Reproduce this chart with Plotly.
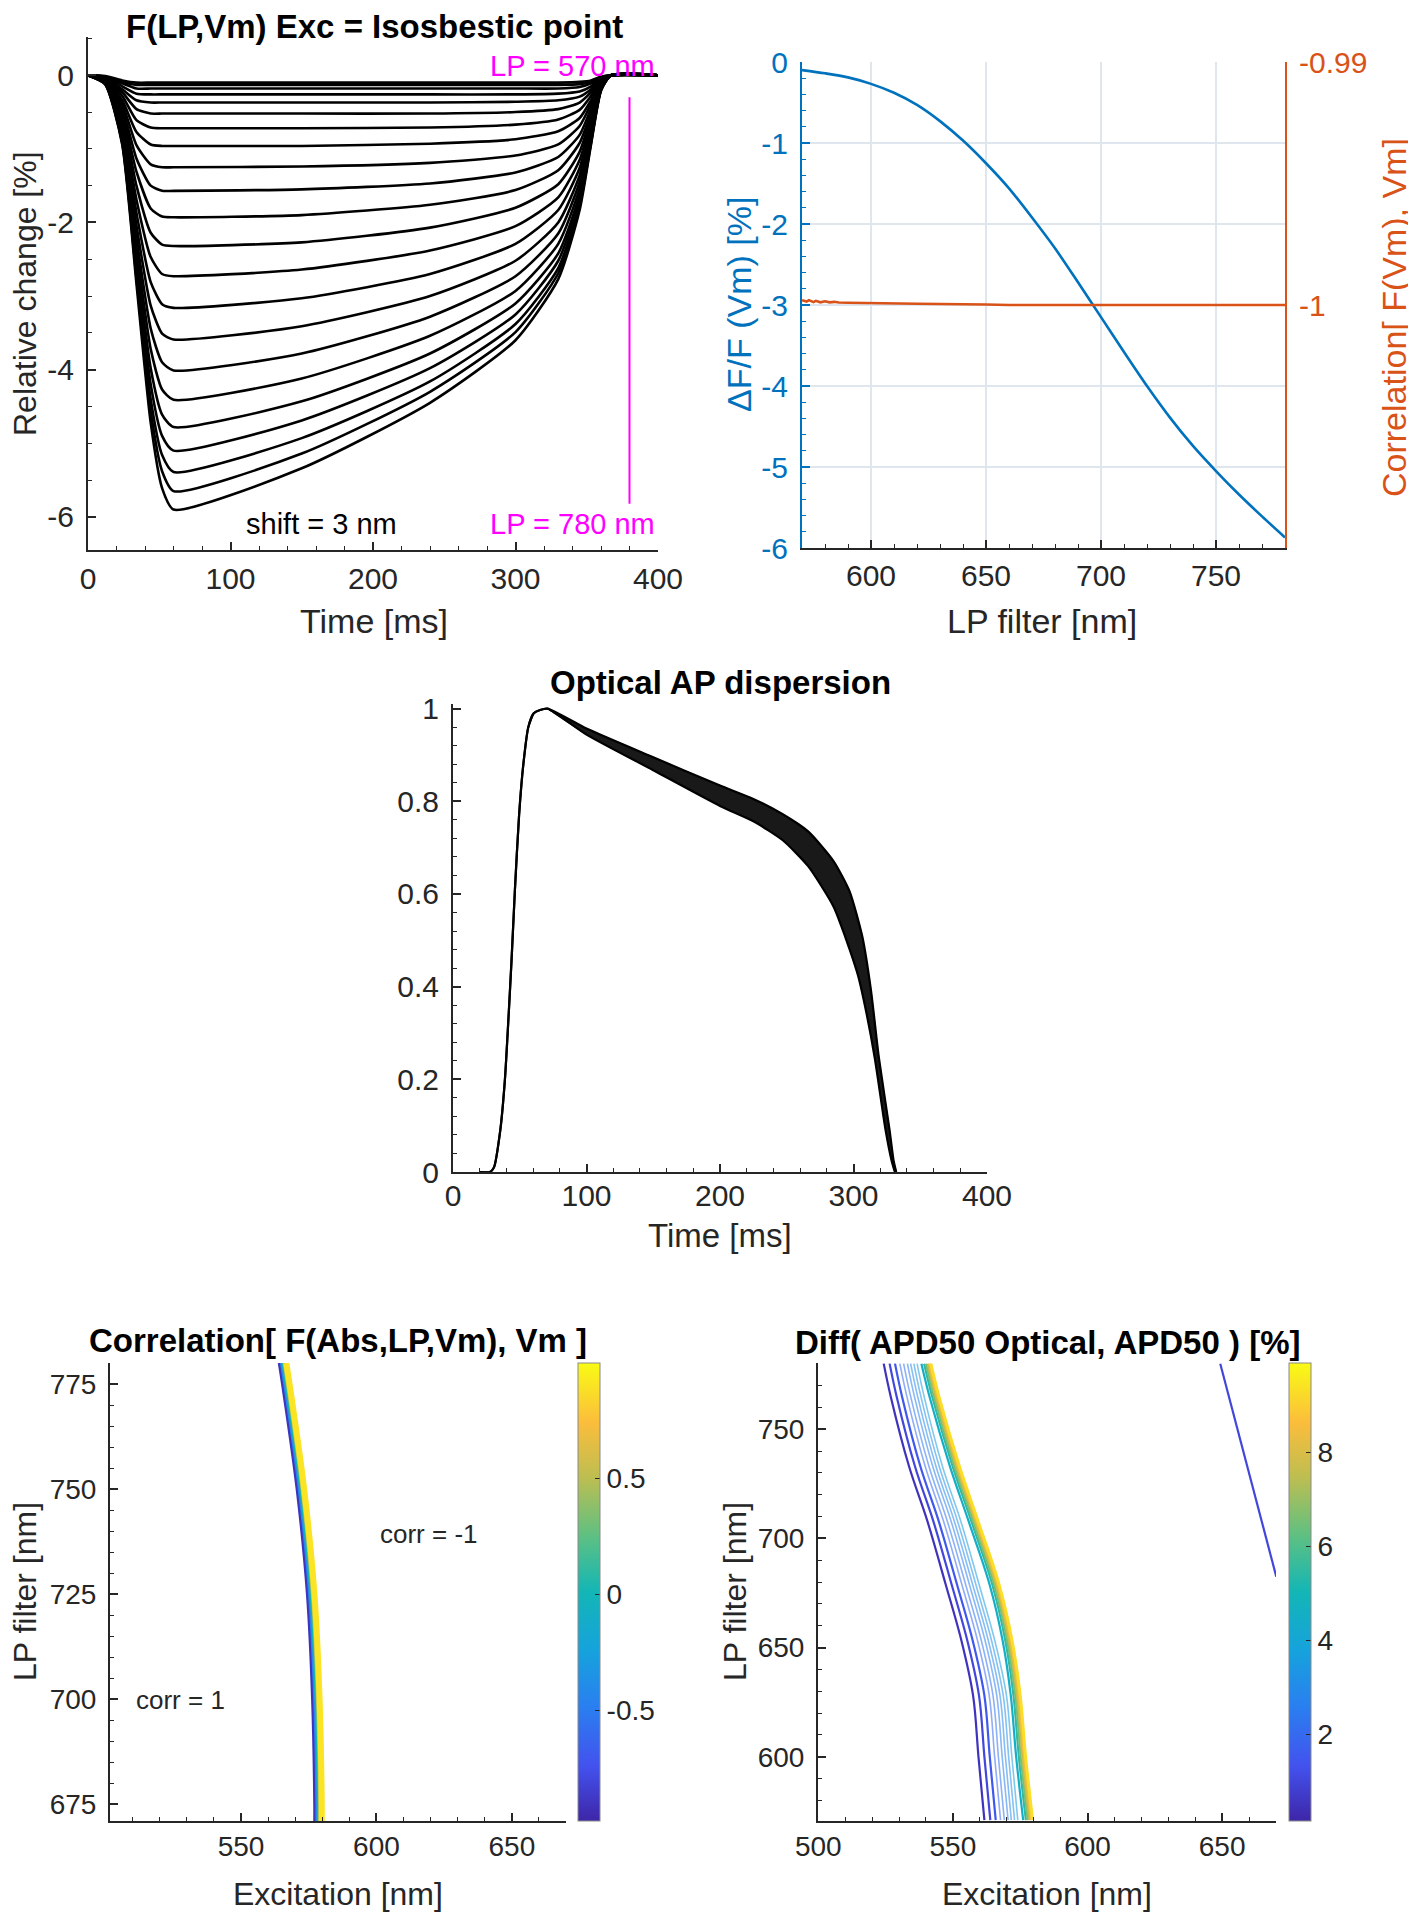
import plotly.graph_objects as go
from plotly.colors import sample_colorscale

W, H = 1416, 1920          # browser window
OFF = 8                    # default <body> margin of the written page
FW, FH = W - OFF, H - OFF  # figure size so the page fills the window


def px(x):
    return (x - OFF) / FW


def py(y):
    return 1 - (y - OFF) / FH


FONT = "Liberation Sans, Arial, sans-serif"
INK = "#262626"
BLUE = "#0072BD"
ORANGE = "#D95319"
MAGENTA = "#FF00FF"

PARULA = [[0.0, "#3e26a8"], [0.12, "#4352ee"], [0.25, "#2a7ff0"], [0.37, "#16a2dd"],
          [0.5, "#13b6b6"], [0.62, "#5cc083"], [0.75, "#bdbe51"], [0.87, "#fbbd3c"],
          [1.0, "#f9fb14"]]

# ---------------- Panel A: F(LP,Vm), one trace per LP filter ----------------
time_ms = [0, 12, 24, 34, 44, 52, 60, 150, 240, 300, 330, 345, 353, 360, 367, 400]
dff_lp780 = [0, -0.12, -0.94, -2.83, -4.72, -5.61, -5.90, -5.34, -4.45, -3.60, -2.77, -1.83, -0.94, -0.21, 0, 0]
dff_lp770 = [0, -0.12, -0.92, -2.75, -4.56, -5.38, -5.65, -5.14, -4.30, -3.49, -2.69, -1.78, -0.92, -0.20, 0, 0]
dff_lp760 = [0, -0.11, -0.90, -2.68, -4.40, -5.16, -5.39, -4.93, -4.16, -3.38, -2.62, -1.74, -0.90, -0.20, 0, 0]
dff_lp750 = [0, -0.11, -0.87, -2.58, -4.20, -4.90, -5.10, -4.69, -3.98, -3.25, -2.52, -1.68, -0.87, -0.19, 0, 0]
dff_lp740 = [0, -0.11, -0.84, -2.47, -3.98, -4.61, -4.78, -4.43, -3.78, -3.10, -2.42, -1.62, -0.84, -0.19, 0, 0]
dff_lp730 = [0, -0.10, -0.81, -2.34, -3.72, -4.27, -4.41, -4.12, -3.54, -2.93, -2.29, -1.54, -0.81, -0.18, 0, 0]
dff_lp720 = [0, -0.10, -0.76, -2.20, -3.44, -3.90, -4.01, -3.78, -3.28, -2.73, -2.15, -1.45, -0.76, -0.17, 0, 0]
dff_lp710 = [0, -0.09, -0.72, -2.04, -3.13, -3.51, -3.59, -3.41, -3.00, -2.52, -2.00, -1.36, -0.72, -0.16, 0, 0]
dff_lp700 = [0, -0.09, -0.67, -1.87, -2.81, -3.11, -3.16, -3.03, -2.70, -2.29, -1.83, -1.26, -0.67, -0.15, 0, 0]
dff_lp690 = [0, -0.08, -0.62, -1.69, -2.47, -2.70, -2.73, -2.64, -2.38, -2.05, -1.66, -1.15, -0.62, -0.14, 0, 0]
dff_lp680 = [0, -0.07, -0.56, -1.50, -2.14, -2.30, -2.32, -2.27, -2.07, -1.80, -1.48, -1.04, -0.56, -0.13, 0, 0]
dff_lp670 = [0, -0.07, -0.51, -1.31, -1.81, -1.92, -1.93, -1.90, -1.76, -1.56, -1.29, -0.92, -0.51, -0.12, 0, 0]
dff_lp660 = [0, -0.06, -0.45, -1.13, -1.50, -1.57, -1.57, -1.55, -1.47, -1.32, -1.11, -0.81, -0.45, -0.10, 0, 0]
dff_lp650 = [0, -0.05, -0.39, -0.95, -1.21, -1.25, -1.25, -1.24, -1.19, -1.09, -0.94, -0.69, -0.39, -0.09, 0, 0]
dff_lp640 = [0, -0.05, -0.34, -0.77, -0.94, -0.96, -0.96, -0.96, -0.93, -0.87, -0.76, -0.58, -0.34, -0.08, 0, 0]
dff_lp630 = [0, -0.04, -0.28, -0.61, -0.71, -0.72, -0.72, -0.72, -0.71, -0.67, -0.60, -0.47, -0.28, -0.07, 0, 0]
dff_lp620 = [0, -0.03, -0.23, -0.46, -0.52, -0.52, -0.52, -0.52, -0.52, -0.50, -0.46, -0.37, -0.23, -0.06, 0, 0]
dff_lp610 = [0, -0.03, -0.19, -0.34, -0.37, -0.37, -0.37, -0.37, -0.37, -0.36, -0.34, -0.29, -0.19, -0.05, 0, 0]
dff_lp600 = [0, -0.02, -0.15, -0.25, -0.26, -0.26, -0.26, -0.26, -0.26, -0.26, -0.25, -0.22, -0.15, -0.04, 0, 0]
dff_lp590 = [0, -0.02, -0.11, -0.18, -0.18, -0.18, -0.18, -0.18, -0.18, -0.18, -0.18, -0.16, -0.11, -0.03, 0, 0]
dff_lp580 = [0, -0.02, -0.09, -0.13, -0.13, -0.13, -0.13, -0.13, -0.13, -0.13, -0.13, -0.12, -0.09, -0.03, 0, 0]
dff_lp570 = [0, -0.01, -0.07, -0.10, -0.10, -0.10, -0.10, -0.10, -0.10, -0.10, -0.10, -0.09, -0.07, -0.02, 0, 0]
dff_traces = [dff_lp780, dff_lp770, dff_lp760, dff_lp750, dff_lp740, dff_lp730, dff_lp720,
              dff_lp710, dff_lp700, dff_lp690, dff_lp680, dff_lp670, dff_lp660, dff_lp650,
              dff_lp640, dff_lp630, dff_lp620, dff_lp610, dff_lp600, dff_lp590, dff_lp580,
              dff_lp570]
lp_bracket_t = [380, 380]
lp_bracket_v = [-0.30, -5.82]
rel_ticks = [-6, -4, -2, 0]

# ---------------- Panel B: dF/F and correlation vs LP filter ----------------
lp_nm = [570, 580, 590, 600, 610, 620, 630, 640, 650, 660, 670, 680, 690, 700,
         710, 720, 730, 740, 750, 760, 770, 780]
dff_peak = [-0.10, -0.14, -0.19, -0.27, -0.38, -0.53, -0.73, -0.97, -1.25, -1.56, -1.92,
            -2.30, -2.72, -3.15, -3.58, -4.00, -4.39, -4.74, -5.05, -5.34, -5.61, -5.87]
lp_corr_nm = [570, 571, 572, 573, 574, 575, 576, 578, 580, 582, 584, 586, 590, 600, 620, 650, 660, 700, 780]
corr_vals = [-0.99980, -0.99984, -0.99986, -0.99980, -0.99985, -0.99988, -0.99983, -0.99989,
             -0.99985, -0.99989, -0.99987, -0.99990, -0.99991, -0.99993, -0.99995, -0.99998,
             -1.0, -1.0, -1.0]
dff_ticks = [-6, -5, -4, -3, -2, -1, 0]
corr_ticks = [-1, -0.99]

# ---------------- Panel C: optical AP dispersion ----------------
ap_rise_t = [20, 27.6, 30.7, 35.4, 38.9, 41.7, 43.9, 46.4, 49.5, 52.7, 56.4, 60.5, 65.2, 70.8]
ap_rise_v = [0, 0, 0.01, 0.09, 0.20, 0.34, 0.46, 0.61, 0.77, 0.88, 0.96, 0.99, 0.997, 1.0]
ap_slow_t = [100, 150, 200, 225, 247, 266, 285, 297, 306.6, 313, 319, 327, 330, 332]
ap_slow_v = [0.957, 0.895, 0.834, 0.805, 0.772, 0.735, 0.671, 0.606, 0.508, 0.394, 0.247, 0.091, 0.025, 0.0]
ap_fast_t = [100, 150, 200, 225, 247, 266, 285, 294, 303.4, 309.7, 316, 324, 328.5, 331]
ap_fast_v = [0.944, 0.867, 0.790, 0.757, 0.716, 0.660, 0.573, 0.506, 0.424, 0.343, 0.245, 0.091, 0.025, 0.0]

# ---------------- Panel D: correlation map (contour lines) ----------------
corr_map_lp = [671, 675, 700, 725, 750, 775, 780]
corr_levels = [-0.9, -0.45, 0.0, 0.45, 0.9]
corr_exc_m090 = [577.2, 577.2, 576.4, 574.5, 570.7, 565.3, 564.1]
corr_exc_m045 = [577.9, 577.9, 577.1, 575.2, 571.4, 566.0, 564.8]
corr_exc_p000 = [578.4, 578.4, 577.6, 575.7, 571.9, 566.5, 565.3]
corr_exc_p045 = [578.9, 578.9, 578.1, 576.2, 572.4, 567.0, 565.8]
corr_exc_p090 = [579.8, 579.8, 579.0, 577.1, 573.3, 567.9, 566.7]
corr_exc_lines = [corr_exc_m090, corr_exc_m045, corr_exc_p000, corr_exc_p045, corr_exc_p090]
corr_cmin, corr_cmax = -0.975, 0.995
corr_cb_ticks = [-0.5, 0, 0.5]

# ---------------- Panel E: APD50 difference map (contour lines) ----------------
apd_map_lp = [571, 600, 628, 653, 679, 708, 733, 765, 780]
apd_levels = [0.5, 1.0, 1.5, 2.0, 2.3, 2.6, 2.9, 3.2, 3.6, 4.5, 5.5, 6.5, 7.5, 8.5, 9.3]
apd_exc_lines = [
    [561.7, 559.5, 557.5, 553.2, 547.3, 540.5, 533.7, 526.9, 524.3],
    [563.9, 561.7, 559.7, 555.4, 549.5, 542.7, 535.9, 529.1, 526.5],
    [565.9, 563.7, 561.7, 557.4, 551.5, 544.7, 537.9, 531.1, 528.5],
    [567.7, 565.5, 563.5, 559.2, 553.3, 546.5, 539.7, 532.9, 530.3],
    [569.1, 566.9, 564.9, 560.6, 554.7, 547.9, 541.1, 534.3, 531.7],
    [570.5, 568.3, 566.3, 562.0, 556.1, 549.3, 542.5, 535.7, 533.1],
    [571.7, 569.5, 567.5, 563.2, 557.3, 550.5, 543.7, 536.9, 534.3],
    [572.9, 570.7, 568.7, 564.4, 558.5, 551.7, 544.9, 538.1, 535.5],
    [574.1, 571.9, 569.9, 565.6, 559.7, 552.9, 546.1, 539.3, 536.7],
    [576.1, 573.5, 571.5, 568.5, 563.6, 555.8, 548.9, 541.3, 538.3],
    [577.1, 574.5, 572.5, 569.5, 564.6, 556.8, 549.9, 542.3, 539.3],
    [577.8, 575.2, 573.2, 570.2, 565.3, 557.5, 550.6, 543.0, 540.0],
    [578.4, 575.8, 573.8, 570.8, 565.9, 558.1, 551.2, 543.6, 540.6],
    [579.1, 576.5, 574.5, 571.5, 566.6, 558.8, 551.9, 544.3, 541.3],
    [579.6, 577.0, 575.0, 572.0, 567.1, 559.3, 552.4, 544.8, 541.8],
]
apd_iso_exc = [649.3, 659.5, 670.1]
apd_iso_lp = [780, 732, 682.5]
apd_iso_level = 1.0
apd_cmin, apd_cmax = 0.15, 9.9
apd_cb_ticks = [2, 4, 6, 8]


def labels(vals):
    return [("%g" % v) for v in vals]


fig = go.Figure()

# Panel A traces
for row in dff_traces:
    fig.add_trace(go.Scatter(x=time_ms, y=row, mode="lines", xaxis="x", yaxis="y",
                             line=dict(color="black", width=2.6, shape="spline", smoothing=0.6),
                             showlegend=False, hoverinfo="skip"))
fig.add_trace(go.Scatter(x=lp_bracket_t, y=lp_bracket_v, mode="lines", xaxis="x", yaxis="y",
                         line=dict(color=MAGENTA, width=2), showlegend=False, hoverinfo="skip"))

# Panel B traces
fig.add_trace(go.Scatter(x=lp_nm, y=dff_peak, mode="lines", xaxis="x2", yaxis="y2",
                         line=dict(color=BLUE, width=2.6, shape="spline", smoothing=0.8),
                         showlegend=False, hoverinfo="skip"))
fig.add_trace(go.Scatter(x=lp_corr_nm, y=corr_vals, mode="lines", xaxis="x2", yaxis="y3",
                         line=dict(color=ORANGE, width=2.6), showlegend=False, hoverinfo="skip"))

# Panel C traces: band between slowest and fastest repolarisation
band_t = [ap_rise_t[-1]] + ap_slow_t + ap_fast_t[::-1] + [ap_rise_t[-1]]
band_v = [ap_rise_v[-1]] + ap_slow_v + ap_fast_v[::-1] + [ap_rise_v[-1]]
fig.add_trace(go.Scatter(x=band_t, y=band_v, mode="lines", fill="toself", xaxis="x3", yaxis="y4",
                         fillcolor="rgba(0,0,0,0.9)",
                         line=dict(color="rgba(0,0,0,0.6)", width=1, shape="spline", smoothing=0.6),
                         showlegend=False, hoverinfo="skip"))
for dec_t, dec_v in [(ap_slow_t, ap_slow_v), (ap_fast_t, ap_fast_v)]:
    fig.add_trace(go.Scatter(x=ap_rise_t + dec_t, y=ap_rise_v + dec_v, mode="lines",
                             xaxis="x3", yaxis="y4",
                             line=dict(color="black", width=2.2, shape="spline", smoothing=0.6),
                             showlegend=False, hoverinfo="skip"))

# Panel D traces
corr_widths = [3, 2.5, 2.5, 2.5, 6]
for lvl, xs, wd in zip(corr_levels, corr_exc_lines, corr_widths):
    col = sample_colorscale(PARULA, [(lvl - corr_cmin) / (corr_cmax - corr_cmin)])[0]
    fig.add_trace(go.Scatter(x=xs, y=corr_map_lp, mode="lines", xaxis="x4", yaxis="y5",
                             line=dict(color=col, width=wd, shape="spline"),
                             showlegend=False, hoverinfo="skip"))


def colorbar(x_left, tickvals):
    return dict(x=px(x_left), xanchor="left", y=py(1592), yanchor="middle",
                len=458 / FH, lenmode="fraction", thickness=22, thicknessmode="pixels",
                xpad=0, ypad=0, outlinewidth=1, outlinecolor="#8a8a8a",
                tickmode="array", tickvals=tickvals, ticktext=labels(tickvals),
                ticks="inside", ticklen=5, tickcolor=INK,
                tickfont=dict(family=FONT, size=28, color=INK))


fig.add_trace(go.Scatter(x=[None], y=[None], mode="markers", xaxis="x4", yaxis="y5",
                         marker=dict(color=[corr_cmin], colorscale=PARULA, cmin=corr_cmin,
                                     cmax=corr_cmax, showscale=True,
                                     colorbar=colorbar(578, corr_cb_ticks)),
                         showlegend=False, hoverinfo="skip"))

# Panel E traces
for lvl, xs in zip(apd_levels, apd_exc_lines):
    col = sample_colorscale(PARULA, [(lvl - apd_cmin) / (apd_cmax - apd_cmin)])[0]
    light = 1.9 < lvl < 4.0
    wd = 1.6 if light else (3 if lvl > 8 else 2.2)
    fig.add_trace(go.Scatter(x=xs, y=apd_map_lp, mode="lines", xaxis="x5", yaxis="y6",
                             opacity=0.55 if light else 1.0,
                             line=dict(color=col, width=wd, shape="spline"),
                             showlegend=False, hoverinfo="skip"))
iso_col = sample_colorscale(PARULA, [(apd_iso_level - apd_cmin) / (apd_cmax - apd_cmin)])[0]
fig.add_trace(go.Scatter(x=apd_iso_exc, y=apd_iso_lp, mode="lines", xaxis="x5", yaxis="y6",
                         line=dict(color=iso_col, width=2.2), showlegend=False, hoverinfo="skip"))
fig.add_trace(go.Scatter(x=[None], y=[None], mode="markers", xaxis="x5", yaxis="y6",
                         marker=dict(color=[apd_cmin], colorscale=PARULA, cmin=apd_cmin,
                                     cmax=apd_cmax, showscale=True,
                                     colorbar=colorbar(1289, apd_cb_ticks)),
                         showlegend=False, hoverinfo="skip"))


def ax(domain, rng, dtick, minor, anchor, color=INK, size=30, standoff=4, grid=False,
       tickvals=None, **kw):
    d = dict(domain=domain, range=rng, dtick=dtick, tick0=0, anchor=anchor,
             showline=True, linecolor=color, linewidth=2, ticks="inside", ticklen=8,
             tickwidth=1.6, tickcolor=color, ticklabelstandoff=standoff,
             tickfont=dict(family=FONT, size=size, color=color),
             showgrid=grid, gridcolor="#dfe6ee", gridwidth=2, zeroline=False,
             minor=dict(dtick=minor, tick0=0, ticks="inside", ticklen=4, tickcolor=color,
                        tickwidth=1.2, showgrid=False))
    if tickvals is not None:
        d.update(tickmode="array", tickvals=tickvals, ticktext=labels(tickvals))
    d.update(kw)
    return d


layout = dict(
    width=FW, height=FH, margin=dict(l=0, r=0, t=0, b=0, autoexpand=False),
    paper_bgcolor="white", plot_bgcolor="white", showlegend=False,
    font=dict(family=FONT, color=INK),
    xaxis=ax([px(88), px(658)], [0, 400], 100, 20, "y", standoff=1),
    yaxis=ax([py(550), py(37)], [-6.45, 0.52], 2, 0.5, "x", standoff=6, tickvals=rel_ticks),
    xaxis2=ax([px(802), px(1285)], [570, 780], 50, 10, "y2", standoff=0, grid=True),
    yaxis2=ax([py(548), py(62)], [-6, 0], 1, 0.2, "x2", color=BLUE, standoff=6, grid=True,
              tickvals=dff_ticks),
    yaxis3=dict(overlaying="y2", side="right", anchor="x2", range=[-1.01, -0.99],
                tickmode="array", tickvals=corr_ticks, ticktext=labels(corr_ticks), showline=True,
                linecolor=ORANGE, linewidth=2, ticks="inside", ticklen=8, tickwidth=1.6,
                tickcolor=ORANGE, ticklabelstandoff=6,
                tickfont=dict(family=FONT, size=30, color=ORANGE), showgrid=False,
                zeroline=False),
    xaxis3=ax([px(453), px(987)], [0, 400], 100, 20, "y4", standoff=-4),
    yaxis4=ax([py(1172), py(704)], [0, 1.01], 0.2, 0.04, "x3", standoff=6),
    xaxis4=ax([px(110), px(566)], [501.6, 670], 50, 10, "y5", size=28, standoff=-1),
    yaxis5=ax([py(1821), py(1363)], [671, 780], 25, 5, "x4", size=28, standoff=6),
    xaxis5=ax([px(818), px(1276)], [499.9, 670], 50, 10, "y6", size=28, standoff=-1),
    yaxis6=ax([py(1821), py(1363)], [570.6, 780.3], 50, 10, "x5", size=28, standoff=6),
)


def note(text, x, y, size, color=INK, angle=0, bold=False, xanchor="center", ref="paper", **kw):
    t = f"<b>{text}</b>" if bold else text
    a = dict(text=t, x=x, y=y, xref="paper" if ref == "paper" else ref[0],
             yref="paper" if ref == "paper" else ref[1], showarrow=False,
             font=dict(family=FONT, size=size, color=color), textangle=angle,
             xanchor=xanchor, yanchor="middle")
    a.update(kw)
    return a


annotations = [
    note("F(LP,Vm) Exc = Isosbestic point", px(374), py(26.5), 33, "black", bold=True),
    note("Relative change [%]", px(25), py(294), 32, angle=-90),
    note("Time [ms]", px(374), py(621), 34),
    note("LP = 570 nm", 399, 0.12, 29, MAGENTA, xanchor="right", ref=("x", "y")),
    note("LP = 780 nm", 399, -6.1, 29, MAGENTA, xanchor="right", ref=("x", "y")),
    note("shift = 3 nm", 164, -6.1, 29, "black", ref=("x", "y")),
    note("ΔF/F (Vm) [%]", px(739), py(305), 34, BLUE, angle=-90),
    note("Correlation[ F(Vm), Vm]", px(1394), py(318), 34, ORANGE, angle=-90),
    note("LP filter [nm]", px(1042), py(621), 34),
    note("Optical AP dispersion", px(720), py(682), 33, "black", bold=True),
    note("Time [ms]", px(720), py(1235), 33),
    note("Correlation[ F(Abs,LP,Vm), Vm ]", px(338), py(1340), 33, "black", bold=True),
    note("Excitation [nm]", px(338), py(1894), 32),
    note("LP filter [nm]", px(25), py(1592), 32, angle=-90),
    note("corr = 1", px(180), py(1700), 26),
    note("corr = -1", px(429), py(1534), 26),
    note("Diff( APD50 Optical, APD50 ) [%]", px(1047), py(1342), 33, "black", bold=True),
    note("Excitation [nm]", px(1047), py(1894), 32),
    note("LP filter [nm]", px(735), py(1592), 32, angle=-90),
]
layout["annotations"] = annotations
fig.update_layout(**layout)

fig.write_html("out.html")
